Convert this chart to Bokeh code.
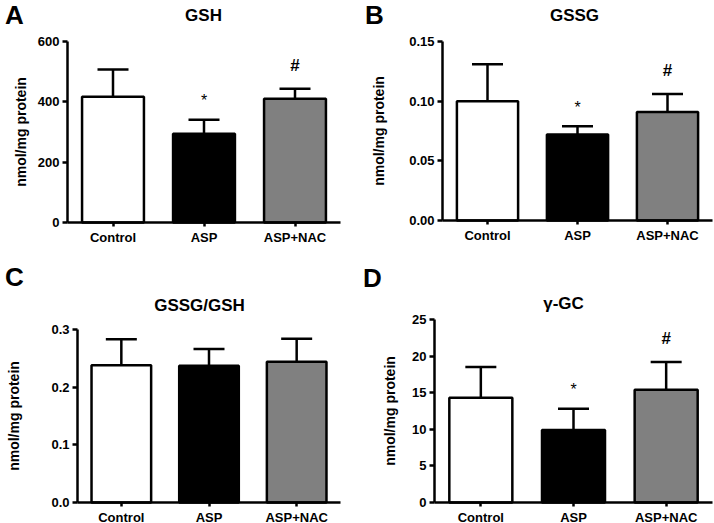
from bokeh.plotting import figure
from bokeh.layouts import row, column
from bokeh.models import (FixedTicker, Label, ColumnDataSource, Range1d,
                          Whisker, TeeHead, NumeralTickFormatter)
from bokeh.embed import file_html
from bokeh.resources import INLINE

# ---------------- data ----------------
groups = ["Control", "ASP", "ASP+NAC"]
bar_colors = ["#ffffff", "#000000", "#808080"]

gsh_mean = [417, 294, 410]
gsh_err = [90, 47, 33]

gssg_mean = [0.100, 0.072, 0.091]
gssg_err = [0.031, 0.007, 0.015]

ratio_mean = [0.238, 0.237, 0.244]
ratio_err = [0.045, 0.029, 0.040]

ggc_mean = [14.3, 9.9, 15.4]
ggc_err = [4.2, 2.9, 3.8]

gsh_ticks = [0, 200, 400, 600]
gssg_ticks = [0.00, 0.05, 0.10, 0.15]
ratio_ticks = [0.0, 0.1, 0.2, 0.3]
ggc_ticks = [0, 5, 10, 15, 20, 25]

titles = ["GSH", "GSSG", "GSSG/GSH", "\u03b3-GC"]
letters = ["A", "B", "C", "D"]
sig_marks = ["", "*", "#"]
y_label = "nmol/mg protein"

FONT = "Liberation Sans"


def panel(mean, err, ticks, fmt, title, letter, show_marks, fig_box, frame,
          title_xy, letter_xy, label_standoff):
    # fig_box: (left, top, width, height) in page px
    # frame: (x of value-axis, right end of category axis, y of top tick, y of zero)
    fx, fy, fw, fh = fig_box
    ax0, fr, ft, fb = frame
    n = len(groups)
    ymax = ticks[-1]
    ppx = (fr - ax0) / n            # px per x unit
    ppy = (fb - ft) / ymax          # px per y unit
    p = figure(width=fw, height=fh,
               x_range=Range1d(-(ax0 - fx) / ppx, (fx + fw - ax0) / ppx),
               y_range=Range1d(-(fy + fh - fb) / ppy, (fb - fy) / ppy),
               output_backend="svg", toolbar_location=None,
               min_border_left=0, min_border_right=0,
               min_border_top=0, min_border_bottom=0)

    def dx(px):
        return (px - ax0) / ppx

    def dy(py):
        return (fb - py) / ppy

    xs = [i + 0.5 for i in range(n)]
    upper = [m + e for m, e in zip(mean, err)]
    src = ColumnDataSource(dict(x=xs, mean=mean, upper=upper, color=bar_colors))
    p.vbar(x="x", top="mean", width=0.68, bottom=0, source=src,
           fill_color="color", line_color="black", line_width=2.5)
    w = Whisker(source=src, base="x", lower="mean", upper="upper", dimension="height",
                line_color="black", line_width=2.5, level="overlay",
                upper_head=TeeHead(size=31, line_width=2.5, line_color="black"),
                lower_head=None)
    p.add_layout(w)

    # axes
    p.xaxis.ticker = FixedTicker(ticks=xs)
    p.xaxis.major_label_overrides = {x: g for x, g in zip(xs, groups)}
    p.xaxis.bounds = (0, n)
    p.xaxis.fixed_location = 0
    p.yaxis.ticker = FixedTicker(ticks=ticks)
    p.yaxis.formatter = NumeralTickFormatter(format=fmt)
    p.yaxis.bounds = (0, ymax)
    p.yaxis.fixed_location = 0
    for ax in (p.xaxis[0], p.yaxis[0]):
        ax.axis_line_width = 2.5
        ax.axis_line_color = "black"
        ax.major_tick_line_width = 2.5
        ax.major_tick_line_color = "black"
        ax.major_tick_in = 0
        ax.minor_tick_line_color = None
        ax.major_label_text_font = FONT
        ax.major_label_text_font_style = "bold"
        ax.major_label_text_font_size = "13px"
        ax.major_label_text_color = "black"
        ax.major_label_standoff = 3
    p.yaxis.major_tick_out = 5
    p.xaxis.major_tick_out = 4
    p.yaxis.axis_label = y_label
    p.yaxis.axis_label_text_font = FONT
    p.yaxis.axis_label_text_font_style = "bold"
    p.yaxis.axis_label_text_font_size = "14px"
    p.yaxis.axis_label_text_color = "black"
    p.yaxis.axis_label_standoff = label_standoff
    p.grid.visible = False
    p.outline_line_color = None
    p.background_fill_color = "white"
    p.border_fill_color = "white"

    # title and panel letter
    p.add_layout(Label(x=dx(title_xy[0]), y=dy(title_xy[1]), text=title,
                       text_font=FONT, text_font_style="bold", text_font_size="17px",
                       text_align="center", text_baseline="middle", text_color="black"))
    p.add_layout(Label(x=dx(letter_xy[0]), y=dy(letter_xy[1]), text=letter,
                       text_font=FONT, text_font_style="bold", text_font_size="26px",
                       text_align="center", text_baseline="middle", text_color="black"))

    # significance marks
    if show_marks:
        for x, u, m in zip(xs, upper, sig_marks):
            if m == "*":
                p.add_layout(Label(x=x, y=u + 0.105 * ymax, text=m, text_font=FONT,
                                   text_font_size="16px", text_align="center",
                                   text_baseline="middle", text_color="black"))
            elif m == "#":
                p.add_layout(Label(x=x, y=u + 0.13 * ymax, text=m, text_font=FONT,
                                   text_font_style="bold", text_font_size="17px",
                                   text_align="center", text_baseline="middle",
                                   text_color="black"))
    return p


pA = panel(gsh_mean, gsh_err, gsh_ticks, "0", titles[0], letters[0], True,
           (0, 0, 357, 262), (67, 340, 41, 222), (203, 15), (14, 14), 6)
pB = panel(gssg_mean, gssg_err, gssg_ticks, "0.00", titles[1], letters[1], True,
           (357, 0, 357, 262), (442, 712, 41, 220), (574, 15), (374, 14), 19)
pC = panel(ratio_mean, ratio_err, ratio_ticks, "0.0", titles[2], letters[2], False,
           (0, 262, 357, 261), (77, 340, 329, 502), (199, 305), (14, 276), 26)
pD = panel(ggc_mean, ggc_err, ggc_ticks, "0", titles[3], letters[3], True,
           (357, 262, 357, 261), (434, 712, 319, 502), (563, 303), (372, 277), 11)

layout = column(row(pA, pB), row(pC, pD))
open("out.html", "w").write(file_html(layout, INLINE))
